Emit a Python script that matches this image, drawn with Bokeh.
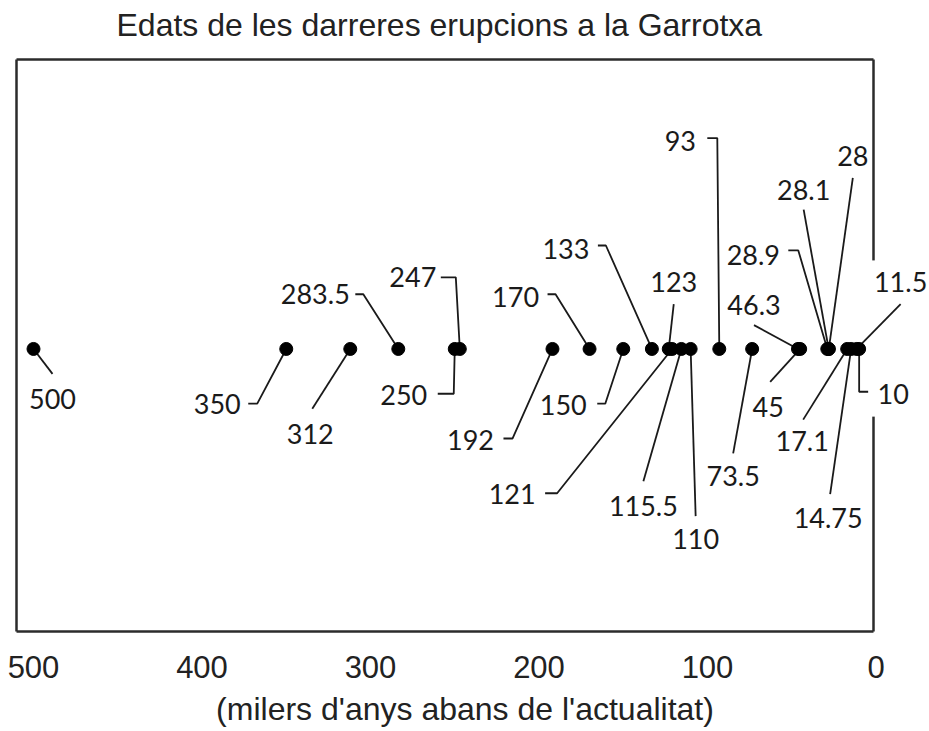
from bokeh.plotting import figure
from bokeh.models import Range1d, FixedTicker, ColumnDataSource
from bokeh.core.properties import value
from bokeh.embed import file_html
from bokeh.resources import INLINE

# ---------------- data ----------------
chart_title = "Edats de les darreres erupcions a la Garrotxa"
axis_title = "(milers d'anys abans de l'actualitat)"

ages = [500, 350, 312, 283.5, 250, 247, 192, 170, 150, 133, 123, 121, 115.5, 110,
        93, 73.5, 46.3, 45, 28.9, 28.1, 28, 17.1, 14.75, 11.5, 10]
age_labels = ["500", "350", "312", "283.5", "250", "247", "192", "170", "150", "133",
              "123", "121", "115.5", "110", "93", "73.5", "46.3", "45", "28.9",
              "28.1", "28", "17.1", "14.75", "11.5", "10"]
tick_values = [500, 400, 300, 200, 100, 0]
tick_labels = ["500", "400", "300", "200", "100", "0"]

# ---------------- layout (screen pixels, relative to each dot) ----------------
label_offsets = [(19, 50), (-69, 55), (-40, 85), (-83, -55), (-51, 46), (-47, -72),
                 (-82, 91), (-74, -52), (-60, 56), (-86, -100), (5, -67), (-160, 146),
                 (-38, 158), (5, 191), (-39, -209), (-19, 128), (-44, -44), (-32, 58),
                 (-74, -94), (-25, -160), (24, -194), (-45, 93), (-23, 170), (44, -67),
                 (34, 45)]
leader_offsets = [[(19, 25)], [(-38, 55), (-29, 55)], [(-38, 60)],
                  [(-43, -55), (-35, -55)], [(-17, 45), (-1, 45)],
                  [(-19, -72), (-4, -72)], [(-49, 90), (-40, 90)],
                  [(-42, -55), (-34, -55)], [(-26, 55), (-18, 55)],
                  [(-54, -104), (-46, -104)], [(5, -45)], [(-127, 145), (-115, 145)],
                  [(-38, 133)], [(5, 168)], [(-12, -212), (-2, -212)], [(-19, 105)],
                  [(-44, -24)], [(-30, 33)], [(-39, -99), (-29, -99)], [(-25, -140)],
                  [(24, -172)], [(-44, 71)], [(-21, 146)], [(44, -45)],
                  [(9, 43), (0, 43)]]

W, H = 929, 731
MB_TOP, MB_BOTTOM = 44, 95
PX_PER_KA = 1.685
ZERO_PAGE_X = 875.5
DOT_Y = 347
FRAME_BOX = dict(left=16, right=873, top=56, bottom=631, gap_top=258, gap_bottom=415)


def page_to_x(px):
    return (ZERO_PAGE_X - px) / PX_PER_KA


x_range = Range1d(page_to_x(0), page_to_x(W))
y_range = Range1d(H - MB_BOTTOM, MB_TOP)

p = figure(width=W, height=H, x_range=x_range, y_range=y_range,
           output_backend="svg", toolbar_location=None, y_axis_location=None,
           min_border_left=0, min_border_right=0, min_border_top=MB_TOP,
           min_border_bottom=MB_BOTTOM)
p.outline_line_color = None
p.grid.visible = False
p.background_fill_color = "white"
p.border_fill_color = "white"

# title
p.title.text = chart_title
p.title.align = "left"
p.title.offset = 116
p.title.standoff = 9
p.title.text_font = "Liberation Sans"
p.title.text_font_size = "32px"
p.title.text_font_style = "normal"
p.title.text_color = "#222222"

# x axis
ax = p.xaxis[0]
ax.ticker = FixedTicker(ticks=tick_values)
ax.major_label_overrides = {v: s for v, s in zip(tick_values, tick_labels)}
ax.axis_line_color = None
ax.major_tick_line_color = None
ax.minor_tick_line_color = None
ax.major_tick_in = 0
ax.major_tick_out = 0
ax.major_label_standoff = 19
ax.major_label_text_font = "Liberation Sans"
ax.major_label_text_font_size = "31px"
ax.major_label_text_color = "#222222"
ax.axis_label = axis_title
ax.axis_label_standoff = 10
ax.axis_label_text_font = "Liberation Sans"
ax.axis_label_text_font_size = "32px"
ax.axis_label_text_font_style = "normal"
ax.axis_label_text_color = "#222222"

# frame box (with a gap on the right behind the 11.5 / 10 labels)
fb = FRAME_BOX
L, R = page_to_x(fb["left"]), page_to_x(fb["right"])
box_xs = [[L, L], [L, R], [L, R], [R, R], [R, R]]
box_ys = [[fb["top"], fb["bottom"]], [fb["top"], fb["top"]], [fb["bottom"], fb["bottom"]],
          [fb["top"], fb["gap_top"]], [fb["gap_bottom"], fb["bottom"]]]
p.multi_line(box_xs, box_ys, line_color="#2b2b2b", line_width=2.5)

# leader lines
lead_xs, lead_ys = [], []
for age, pts in zip(ages, leader_offsets):
    xs = [age - dx / PX_PER_KA for dx, dy in pts] + [age]
    ys = [DOT_Y + dy for dx, dy in pts] + [DOT_Y]
    lead_xs.append(xs)
    lead_ys.append(ys)
p.multi_line(lead_xs, lead_ys, line_color="#1a1a1a", line_width=1.8)

# dots
dots = ColumnDataSource(dict(x=ages, y=[DOT_Y] * len(ages)))
p.scatter("x", "y", source=dots, size=13, marker="circle",
          fill_color="black", line_color="black")

# labels
lab = ColumnDataSource(dict(
    x=[a - dx / PX_PER_KA for a, (dx, dy) in zip(ages, label_offsets)],
    y=[DOT_Y + dy for dx, dy in label_offsets],
    text=age_labels))
p.text("x", "y", text="text", source=lab, text_font=value("Lato"),
       text_font_size="27px", text_align="center", text_baseline="middle",
       text_color="#1a1a1a")

open("out.html", "w").write(file_html(p, INLINE))
